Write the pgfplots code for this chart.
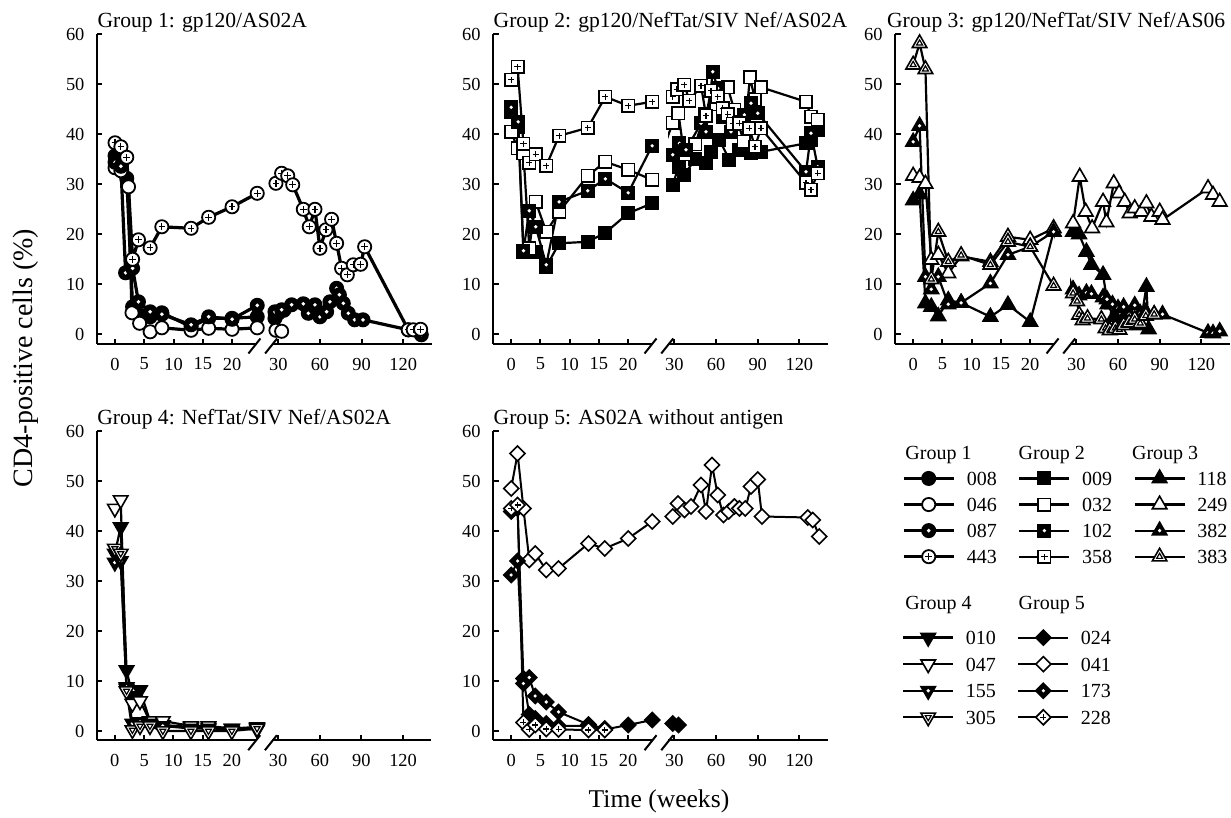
\documentclass[border=0pt]{standalone}
\usepackage{pgfplots}
\pgfplotsset{compat=1.18}
\usepackage{fontspec}
\setmainfont{Liberation Serif}

% marker shapes
\def\shC{\pgfpathcircle{\pgfpointorigin}{\pgfplotmarksize}}
\def\shS{\pgfpathrectangle{\pgfqpoint{-\pgfplotmarksize}{-\pgfplotmarksize}}{\pgfqpoint{2\pgfplotmarksize}{2\pgfplotmarksize}}}
\def\shT#1{\pgfpathmoveto{\pgfqpointpolar{90}{#1\pgfplotmarksize}}\pgfpathlineto{\pgfqpointpolar{210}{#1\pgfplotmarksize}}\pgfpathlineto{\pgfqpointpolar{330}{#1\pgfplotmarksize}}\pgfpathclose}
\def\shV#1{\pgfpathmoveto{\pgfqpointpolar{270}{#1\pgfplotmarksize}}\pgfpathlineto{\pgfqpointpolar{30}{#1\pgfplotmarksize}}\pgfpathlineto{\pgfqpointpolar{150}{#1\pgfplotmarksize}}\pgfpathclose}
\def\shD{\pgfpathmoveto{\pgfqpoint{1.25\pgfplotmarksize}{0pt}}\pgfpathlineto{\pgfqpoint{0pt}{1.25\pgfplotmarksize}}\pgfpathlineto{\pgfqpoint{-1.25\pgfplotmarksize}{0pt}}\pgfpathlineto{\pgfqpoint{0pt}{-1.25\pgfplotmarksize}}\pgfpathclose}
\def\inP{\pgfpathmoveto{\pgfqpoint{-0.5\pgfplotmarksize}{0pt}}\pgfpathlineto{\pgfqpoint{0.5\pgfplotmarksize}{0pt}}\pgfpathmoveto{\pgfqpoint{0pt}{-0.5\pgfplotmarksize}}\pgfpathlineto{\pgfqpoint{0pt}{0.5\pgfplotmarksize}}}

% f = filled, o = open, d = filled with white dot, p = open with inner sign
\newcommand\mkmarks[3]{%
  \pgfdeclareplotmark{#1f}{\pgfscope\pgfsetfillcolor{black}#2\pgfusepathqfillstroke\endpgfscope}%
  \pgfdeclareplotmark{#1o}{\pgfscope\pgfsetfillcolor{white}#2\pgfusepathqfillstroke\endpgfscope}%
  \pgfdeclareplotmark{#1d}{\pgfscope\pgfsetfillcolor{black}#2\pgfusepathqfillstroke
    \pgfsetfillcolor{white}\pgfpathcircle{\pgfpointorigin}{0.3\pgfplotmarksize}\pgfusepathqfill\endpgfscope}%
  \pgfdeclareplotmark{#1p}{\pgfscope\pgfsetfillcolor{white}#2\pgfusepathqfillstroke
    \pgfsetlinewidth{0.6pt}#3\pgfusepathqstroke\endpgfscope}}
\mkmarks{mC}{\shC}{\inP}
\mkmarks{mS}{\shS}{\inP}
\mkmarks{mT}{\shT{1.35}}{\shT{0.55}}
\mkmarks{mV}{\shV{1.35}}{\shV{0.55}}
\mkmarks{mD}{\shD}{\inP}

\tikzset{
  ln1/.style={black, line width=1.6pt, mark size=3.3pt, mark options={line width=0.9pt, solid}},
  ln2/.style={black, line width=1.1pt, mark size=3.1pt, mark options={line width=0.8pt, solid}},
  ln3/.style={black, line width=1.0pt, mark size=3.0pt, mark options={line width=0.8pt, solid}},
  s008/.style={ln1, mark=mCf}, s046/.style={ln1, mark=mCo}, s087/.style={ln1, mark=mCd}, s443/.style={ln1, mark=mCp},
  s009/.style={ln2, mark=mSf}, s032/.style={ln2, mark=mSo}, s102/.style={ln2, mark=mSd}, s358/.style={ln2, mark=mSp},
  s118/.style={ln2, mark=mTf}, s249/.style={ln2, mark=mTo}, s382/.style={ln2, mark=mTd}, s383/.style={ln2, mark=mTp},
  s010/.style={ln2, mark=mVf}, s047/.style={ln2, mark=mVo}, s155/.style={ln2, mark=mVd}, s305/.style={ln2, mark=mVp},
  s024/.style={ln3, mark=mDf}, s041/.style={ln3, mark=mDo}, s173/.style={ln3, mark=mDd}, s228/.style={ln3, mark=mDp},
}

% weeks 0-25 are drawn 1:1, weeks 30 and later on a compressed scale (30 weeks = 7.12 units)
\pgfplotsset{
  panel/.style={
    scale only axis, width=167.2pt, height=154.75pt,
    xmin=-3.05, xmax=54.1, ymin=-1.9, ymax=60,
    x filter/.expression={x<26 ? x : 27.9+(x-30)*0.2373},
    axis x line*=bottom, axis y line*=left,
    axis line style={line width=1pt, black},
    tick align=inside, major tick length=2.6pt, tick style={line width=1pt, black},
    xtick={0,5,10,15,20,27.9,35.019,42.138,49.257}, xticklabels={0,5,10,15,20,30,60,90,120},
    ytick={0,10,...,60},
    tick label style={font=\fontsize{9.2}{11}\selectfont, inner sep=0pt},
    xticklabel style={yshift=-6.8pt},
    yticklabel style={xshift=-6.2pt},
    /pgf/number format/assume math mode=true,
    every axis title shift=0pt,
    title style={at={(0,1)}, anchor=base west, yshift=3.4pt, inner sep=0pt, font=\fontsize{10.8}{13}\selectfont},
    clip=false, set layers, mark layer=axis foreground,
  },
  legbox/.style={
    hide axis, scale only axis, width=10pt, height=10pt, xmin=0, xmax=1, ymin=0, ymax=1,
    legend cell align=left,
    legend image code/.code={\draw[mark repeat=2,mark phase=2,##1] plot coordinates {(0pt,0pt) (12.5pt,0pt) (25pt,0pt)};},
    legend style={at={(0,1)}, anchor=north west, draw=none, fill=none, inner sep=0pt, row sep=5.35pt,
      nodes={inner sep=0pt, text height=7pt, text depth=0pt, font=\fontsize{10}{12}\selectfont},
      /tikz/every odd column/.append style={column sep=5.8pt},
      /tikz/every even column/.append style={column sep=10.7pt}},
  },
}

% gap in the time axis
\newcommand\brk{%
  \fill[white] (rel axis cs:0.479,-0.02) rectangle (rel axis cs:0.522,1.02);
  \draw[line width=1pt] (rel axis cs:0.475,0) ++(-3.8pt,-4.85pt) -- ++(6pt,7.5pt);
  \draw[line width=1pt] (rel axis cs:0.525,0) ++(-3.8pt,-4.85pt) -- ++(6pt,7.5pt);}

\begin{document}
\begin{tikzpicture}

% Group 1
\begin{axis}[panel, at={(48.6pt,237.1pt)}, anchor=south west, title={Group 1: gp120/AS02A}]
\addplot[s008] coordinates {(0,35.7)(1,34.8)(2,31.2)(3,5.5)(4,4.0)(6,3.5)(8,4.3)(13,1.5)(16,3.2)(20,3.2)(24.3,3.5)(27.6,3.2)(30,4.2)(34,4.8)};
\addplot[s046] coordinates {(0,33.3)(1,32.7)(2.3,29.5)(2.9,4.3)(4.2,2.2)(6,0.5)(8,1.3)(13,0.8)(16,1.2)(20,1.0)(24.3,1.3)(28.3,0.8)(32.4,0.6)};
\addplot[s087] coordinates {(0,34.4)(1,33.6)(1.8,12.3)(3,13.2)(4,6.5)(6,4.5)(8,4.0)(13,1.9)(16,3.5)(20,3.0)(24.3,5.8)(27.6,4.5)(32.4,4.9)(39.6,5.9)(48,6.1)(51.6,4.2)(56.4,5.9)(60,3.5)(64.8,4.5)(67.2,6.5)(72,9.2)(74,7.9)(76.8,6.2)(80.4,4.2)(85,2.9)(91,2.9)(123.6,0.9)(133,-0.1)};
\addplot[s443] coordinates {(0,38.3)(1,37.5)(2,35.4)(3,15.0)(4,18.9)(6,17.3)(8,21.5)(13,21.2)(16,23.4)(20,25.5)(24.3,28.2)(28.3,30.2)(32.4,32.2)(36.8,31.7)(40.4,29.9)(48,25.0)(52.3,21.5)(56.4,25.0)(60,17.2)(64.3,20.9)(68.4,23.0)(72,18.2)(75.6,13.2)(79.7,11.9)(84,13.9)(89.3,14.0)(92.2,17.5)(123.6,0.9)(127.2,0.9)(132.5,1.0)};
\brk
\end{axis}

% Group 2
\begin{axis}[panel, at={(246.65pt,237.1pt)}, anchor=south west, title={Group 2: gp120/NefTat/SIV Nef/AS02A}]
\addplot[s009] coordinates {(0,44.5)(1.2,41.5)(2.1,16.5)(3.1,17.0)(4.2,16.5)(6,13.5)(8.2,18.2)(13.1,18.5)(16.1,20.3)(20,24.2)(24.1,26.2)(28.8,29.9)(33,33.5)(37,31.9)(45,35.0)(52.8,34.2)(56.4,36.5)(62.4,38.9)(69.6,34.9)(76.8,36.9)(85.2,36.2)(92.4,36.5)(124.8,38.2)(128.4,38.9)(133.2,40.9)};
\addplot[s032] coordinates {(0,40.5)(1.1,37.2)(2.1,36.2)(3.1,17.2)(4.2,26.5)(6,20.5)(8.2,24.5)(13.1,31.7)(16.1,34.5)(20,32.9)(24.1,30.9)(28.8,42.3)(32.9,44.2)(37,36.0)(45,38.0)(52,44.0)(60,46.0)(68.4,49.4)(73,44.9)(80,38.5)(84.4,51.4)(88,47.0)(92.4,49.4)(124.8,46.5)(128.4,43.5)(133.2,42.9)};
\addplot[s102] coordinates {(0,45.4)(1.2,42.5)(2.1,16.7)(3.1,24.7)(4.2,21.5)(6,13.9)(8.2,26.5)(13.1,28.7)(16.1,31.1)(20,28.3)(24.1,37.7)(28.8,35.9)(33.6,38.2)(38.4,36.9)(49.2,42.2)(52.8,40.5)(57.6,52.5)(61.2,49.2)(64.8,43.5)(70.8,40.5)(80.4,43.9)(85.2,46.2)(90,44.2)(124.8,32.5)(128.4,40.2)(133.2,33.5)};
\addplot[s358] coordinates {(0,50.9)(1.1,53.5)(2.1,38.1)(3.1,34.3)(4.2,36.0)(6,33.7)(8.2,39.7)(13.1,41.3)(16.1,47.5)(20,45.7)(24.1,46.5)(28.8,47.5)(31.9,49.0)(37.2,49.9)(40.8,46.7)(49.2,49.7)(52.8,43.7)(56.4,48.7)(61.2,47.5)(64.8,45.2)(68.4,44.0)(72,42.1)(76.8,42.2)(84,41.2)(88,37.5)(92.4,41.2)(124.8,30.3)(128.4,28.9)(133.2,32.2)};
\brk
\end{axis}

% Group 3
\begin{axis}[panel, at={(447.65pt,237.1pt)}, anchor=south west, title={Group 3: gp120/NefTat/SIV Nef/AS06}, title style={xshift=-4.3pt}]
\addplot[s118] coordinates {(0,26.8)(1.1,28.0)(2.1,6.2)(3.1,5.5)(4.3,3.6)(6,6.8)(8.2,6.3)(13.2,3.5)(16.2,5.9)(20,2.5)(24,20.5)(27.6,20.5)(31.9,20.0)(37.2,16.5)(40.8,13.9)(49.2,11.9)(52.5,6.0)(57,3.5)(60,2.5)(64,3.2)(68,2.8)(72,2.0)(76,1.8)(80.4,9.5)(82,1.0)};
\addplot[s249] coordinates {(0,31.7)(1.1,31.3)(2.1,30.1)(3.1,14.9)(4.3,15.9)(6,12.2)(8.2,15.6)(13.2,14.5)(16.2,19.5)(20,18.9)(24,21.2)(27.6,22.2)(32.4,31.5)(36.7,24.5)(41.3,21.2)(49.2,26.5)(51.6,22.4)(56.9,30.2)(60.7,28.2)(64.8,26.5)(68.4,24.2)(72,25.2)(76.8,24.5)(80.4,26.2)(84,23.5)(90,24.5)(92,22.9)(124.8,29.2)(128.4,27.9)(133.2,26.5)};
\addplot[s382] coordinates {(0,38.5)(1.1,41.7)(2.1,11.5)(3.1,9.0)(4.3,11.5)(6,6.0)(8.2,6.3)(13.2,10.2)(16.2,15.9)(20,17.5)(24,20.5)(27.6,9.0)(31.9,7.8)(37.2,8.3)(40.8,8.1)(49.2,7.4)(52,7.0)(56,6.0)(60,5.2)(64,5.5)(68,4.0)(72,5.8)(76,4.2)(80,4.5)(86,4.0)(92,4.0)(124.8,0.3)(128.4,0.2)(133.2,0.6)};
\addplot[s383] coordinates {(0,53.9)(1.1,58.2)(2.1,53.0)(3.1,11.0)(4.3,20.5)(6,14.5)(8.2,15.8)(13.2,13.9)(16.2,18.5)(20,17.5)(24,9.7)(27.6,8.2)(30.5,6.6)(32,3.9)(34.5,2.8)(38,3.2)(48,3.0)(51,1.2)(54,0.8)(58,1.2)(61,0.9)(64,1.8)(68,2.3)(72,3.0)(76,2.2)(80,3.7)(86,4.0)};
\brk
\end{axis}

% Group 4
\begin{axis}[panel, at={(48.5pt,38.75pt)}, anchor=south west, title={Group 4: NefTat/SIV Nef/AS02A}]
\addplot[s010] coordinates {(0,35.5)(1,40.8)(2,12.2)(3,7.0)(4.3,8.2)(6,2.0)(8.2,1.2)(13,0.8)(16,0.7)(20,0.5)(24.3,0.3)};
\addplot[s047] coordinates {(0,44.5)(1,46.2)(2,8.5)(3,5.5)(4.3,6.0)(6,2.0)(8.2,2.0)(13,1.0)(16,1.0)(20,0.5)(24.3,0.8)};
\addplot[s155] coordinates {(0,33.7)(1,34.0)(2,8.8)(3,1.5)(4.3,1.8)(6,1.5)(8.2,1.0)(13,0.5)(16,0.5)(20,0.4)(24.3,0.6)};
\addplot[s305] coordinates {(0,36.5)(1,35.5)(2,8.0)(3,0.2)(4.3,1.0)(6,1.0)(8.2,0.0)(13,0.0)(16,0.0)(20,0.0)(24.3,0.5)};
\brk
\end{axis}

% Group 5
\begin{axis}[panel, at={(246.65pt,38.75pt)}, anchor=south west, title={Group 5: AS02A without antigen}]
\addplot[s024] coordinates {(0,43.9)(1.1,44.5)(2.1,10.5)(3.1,3.3)(4.1,2.5)(6,1.5)(8.1,1.0)(13.2,1.0)(16,0.3)(20,1.2)(24.1,2.2)(28.8,1.5)(33,1.2)};
\addplot[s041] coordinates {(0,48.5)(1.1,55.5)(2.1,44.5)(3.1,34.2)(4.1,35.5)(6,32.2)(8.1,32.5)(13.2,37.5)(16,36.5)(20,38.5)(24.1,41.9)(28.8,42.9)(32.6,45.5)(37.2,44.2)(42,44.9)(49.2,49.2)(52.8,43.9)(57.1,53.2)(61.2,47.2)(65.3,43.2)(69.1,43.9)(73.2,44.9)(76.8,44.5)(81.1,44.5)(85.2,48.9)(90,50.3)(93.1,42.9)(126,42.7)(129.6,42.2)(134.4,38.9)};
\addplot[s173] coordinates {(0,31.2)(1.1,34.0)(2.1,9.5)(3.1,10.7)(4.1,7.0)(6,5.8)(8.1,3.8)(13.2,1.3)(16,0.5)};
\addplot[s228] coordinates {(0,44.5)(1.1,45.2)(2.1,1.7)(3.1,0.3)(4.1,1.2)(6,0.4)(8.1,0.3)(13.2,0.2)(16,0.2)};
\brk
\end{axis}

% legends
\begin{axis}[legbox, at={(450.85pt,174.15pt)}, anchor=north west, legend columns=3]
\addlegendimage{s008}\addlegendentry{008}
\addlegendimage{s009}\addlegendentry{009}
\addlegendimage{s118}\addlegendentry{118}
\addlegendimage{s046}\addlegendentry{046}
\addlegendimage{s032}\addlegendentry{032}
\addlegendimage{s249}\addlegendentry{249}
\addlegendimage{s087}\addlegendentry{087}
\addlegendimage{s102}\addlegendentry{102}
\addlegendimage{s382}\addlegendentry{382}
\addlegendimage{s443}\addlegendentry{443}
\addlegendimage{s358}\addlegendentry{358}
\addlegendimage{s383}\addlegendentry{383}
\end{axis}

\begin{axis}[legbox, at={(450.85pt,94.15pt)}, anchor=north west, legend columns=2]
\addlegendimage{s010}\addlegendentry{010}
\addlegendimage{s024}\addlegendentry{024}
\addlegendimage{s047}\addlegendentry{047}
\addlegendimage{s041}\addlegendentry{041}
\addlegendimage{s155}\addlegendentry{155}
\addlegendimage{s173}\addlegendentry{173}
\addlegendimage{s305}\addlegendentry{305}
\addlegendimage{s228}\addlegendentry{228}
\end{axis}

\begin{scope}[every node/.style={inner sep=0pt, font=\fontsize{10}{12}\selectfont}]
\node[anchor=base west] at (452.5pt,179.4pt) {Group 1};
\node[anchor=base west] at (509.15pt,179.4pt) {Group 2};
\node[anchor=base west] at (565.85pt,179.4pt) {Group 3};
\node[anchor=base west] at (452.5pt,104.4pt) {Group 4};
\node[anchor=base west] at (509.15pt,104.4pt) {Group 5};
\end{scope}

\node[rotate=90, inner sep=0pt, font=\fontsize{14}{16}\selectfont] at (12.9pt,230pt) {CD4-positive cells (\%)};
\node[anchor=base, inner sep=0pt, font=\fontsize{12.8}{15}\selectfont] at (329.5pt,5pt) {Time (weeks)};

\pgfresetboundingbox
\useasboundingbox (0,0) rectangle (615.5pt,409pt);
\end{tikzpicture}
\end{document}
